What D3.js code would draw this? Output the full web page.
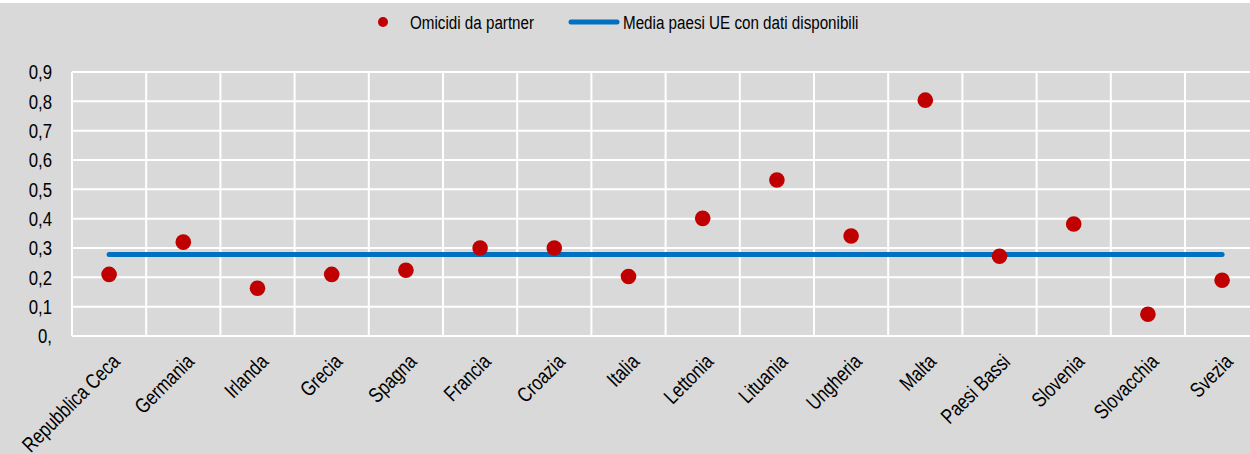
<!DOCTYPE html>
<html>
<head>
<meta charset="utf-8">
<script src="https://cdn.jsdelivr.net/npm/d3@7"></script>
<style>
  html, body { margin: 0; padding: 0; background: #d9d9d9; }
  svg { display: block; }
  text { font-family: "Liberation Sans", Arial, sans-serif; fill: #000; }
</style>
</head>
<body>
<svg id="mainSvg" width="1250" height="454"></svg>
<script>
var countries = ["Repubblica Ceca", "Germania", "Irlanda", "Grecia", "Spagna", "Francia", "Croazia", "Italia",
	"Lettonia", "Lituania", "Ungheria", "Malta", "Paesi Bassi", "Slovenia", "Slovacchia", "Svezia"];
var homicides = [0.21, 0.32, 0.163, 0.21, 0.224, 0.30, 0.30, 0.203, 0.401, 0.532, 0.341, 0.804, 0.272, 0.382, 0.074, 0.19];
var euAverage = 0.278;
var yTicks = [0, 0.1, 0.2, 0.3, 0.4, 0.5, 0.6, 0.7, 0.8, 0.9];
var yTickLabels = ["0,", "0,1", "0,2", "0,3", "0,4", "0,5", "0,6", "0,7", "0,8", "0,9"];
var legendLabels = ["Omicidi da partner", "Media paesi UE con dati disponibili"];

var map = {width: 1250, height: 454};
var plot = {left: 72, top: 72, bottom: 336, step: 74.2};
var red = "#c00000", blue = "#0070c0";
var narrow = 0.8; // no narrow font installed, squeeze the regular one

var mainSvg = d3.select("#mainSvg");
mainSvg.append("rect").attr("width", map.width).attr("height", map.height).attr("fill", "#d9d9d9");
mainSvg.append("line").attr("x1", 0).attr("x2", map.width).attr("y1", 1.5).attr("y2", 1.5)
	.attr("style", "stroke:#fff;stroke-width:3");

var x = d3.scaleBand().domain(countries).range([plot.left, plot.left + plot.step * countries.length]);
var y = d3.scaleLinear().domain([0, 0.9]).range([plot.bottom, plot.top]);

// horizontal grid
mainSvg.selectAll(".hgrid").data(yTicks).enter().append("line").attr("class", "hgrid")
	.attr("x1", plot.left).attr("x2", map.width)
	.attr("y1", function(d) { return y(d); }).attr("y2", function(d) { return y(d); })
	.attr("style", "stroke:#fff;stroke-width:2");
// vertical grid
mainSvg.selectAll(".vgrid").data(countries).enter().append("line").attr("class", "vgrid")
	.attr("x1", function(d) { return x(d); }).attr("x2", function(d) { return x(d); })
	.attr("y1", y(0.9)).attr("y2", y(0))
	.attr("style", "stroke:#fff;stroke-width:2");

// y labels
mainSvg.selectAll(".ylab").data(yTicks).enter().append("text").attr("class", "ylab")
	.attr("transform", function(d) { return "translate(52," + y(d) + ") scale(" + narrow + ",1)"; })
	.attr("dy", "0.35em")
	.attr("text-anchor", "end").attr("font-size", "21px")
	.text(function(d, i) { return yTickLabels[i]; });

// x labels
mainSvg.selectAll(".xlab").data(countries).enter().append("text").attr("class", "xlab")
	.attr("transform", function(d) { return "translate(" + (x(d) + x.bandwidth() / 2 + 12) + "," + 363 + ") rotate(-45) scale(" + narrow + ",1)"; })
	.attr("text-anchor", "end").attr("font-size", "21px")
	.text(function(d) { return d; });

// average line
mainSvg.append("line")
	.attr("x1", x(countries[0]) + x.bandwidth() / 2).attr("x2", x(countries[countries.length - 1]) + x.bandwidth() / 2)
	.attr("y1", y(euAverage)).attr("y2", y(euAverage))
	.attr("style", "stroke:" + blue + ";stroke-width:5;stroke-linecap:round");

// points
mainSvg.selectAll(".dot").data(homicides).enter().append("circle").attr("class", "dot")
	.attr("cx", function(d, i) { return x(countries[i]) + x.bandwidth() / 2; })
	.attr("cy", function(d) { return y(d); })
	.attr("r", 7.8).attr("fill", red);

// legend
var legend = mainSvg.append("g");
legend.append("circle").attr("cx", 383).attr("cy", 22).attr("r", 5).attr("fill", red);
legend.append("text").attr("transform", "translate(410,22) scale(" + narrow + ",1)").attr("dy", "0.35em")
	.attr("font-size", "19px").text(legendLabels[0]);
legend.append("line").attr("x1", 571).attr("x2", 617).attr("y1", 22).attr("y2", 22)
	.attr("style", "stroke:" + blue + ";stroke-width:5;stroke-linecap:round");
legend.append("text").attr("transform", "translate(623,22) scale(" + narrow + ",1)").attr("dy", "0.35em")
	.attr("font-size", "19px").text(legendLabels[1]);
</script>
</body>
</html>
